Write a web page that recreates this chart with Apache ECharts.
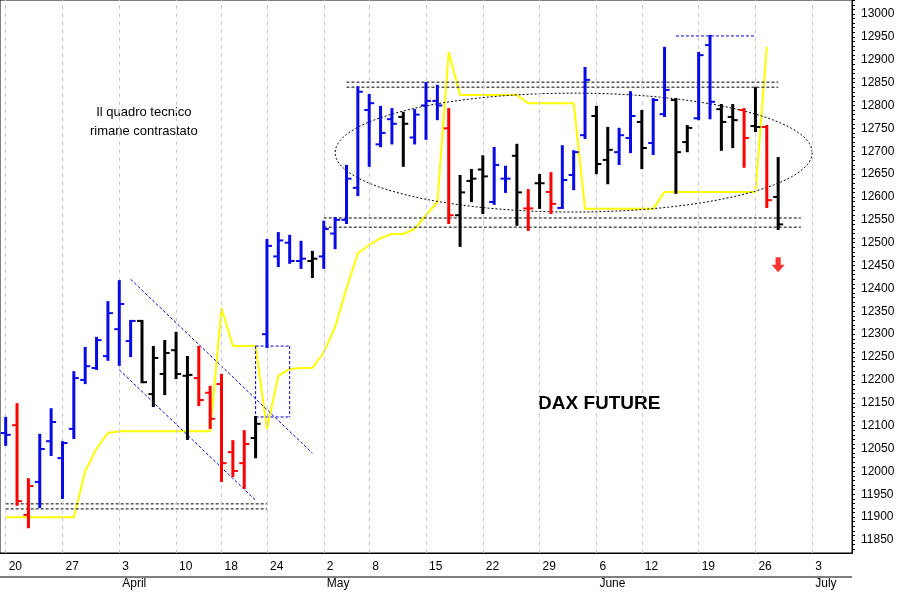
<!DOCTYPE html>
<html>
<head>
<meta charset="utf-8">
<script src="https://cdn.jsdelivr.net/npm/echarts@6/dist/echarts.min.js"></script>
<style>html,body{margin:0;padding:0;background:#fff}#main{width:904px;height:592px}</style>
</head>
<body>
<div id="main"></div>
<script>
// giorni di contrattazione (piu' alcuni giorni vuoti a destra)
var days = ['03-20','03-21','03-22','03-23','03-24','03-27','03-28','03-29','03-30','03-31',
    '04-03','04-04','04-05','04-06','04-07','04-10','04-11','04-12','04-13','04-18',
    '04-19','04-20','04-21','04-24','04-25','04-26','04-27','04-28','05-02','05-03',
    '05-04','05-05','05-08','05-09','05-10','05-11','05-12','05-15','05-16','05-17',
    '05-18','05-19','05-22','05-23','05-24','05-25','05-26','05-29','05-30','05-31',
    '06-01','06-02','06-06','06-07','06-08','06-09','06-12','06-13','06-14','06-15',
    '06-16','06-19','06-20','06-21','06-22','06-23','06-26','06-27','06-28','06-29',
    '06-30','07-03','07-04','07-05','07-06'];
var tickLabels = {0: '20', 5: '27', 10: '3\nApril', 15: '10', 19: '18', 23: '24', 28: '2\nMay',
    32: '8', 37: '15', 42: '22', 47: '29', 52: '6\nJune', 56: '12', 61: '19', 66: '26', 71: '3\nJuly'};
var priceTicks = [11850,11900,11950,12000,12050,12100,12150,12200,12250,12300,12350,12400,12450,
    12500,12550,12600,12650,12700,12750,12800,12850,12900,12950,13000];
var opens  = [12084,12101,11905,11977,12066,12029,12093,12200,12226,12252,12311,12285,12329,12169,12213,12265,12209,12204,12172,12191,12042,12018,12073,12300,12470,12500,12460,12460,12470,12520,12550,12620,12790,12715,12770,12775,12730,12800,12810,12750,12560,12635,12660,12589,12640,12690,12575,12630,12611,12576,12648,12735,12777,12681,12698,12729,12764,12718,12781,12812,12720,12772,12932,12792,12775,12790,12755,12753,12600];
var highs  = [12117,12147,11983,12080,12136,12064,12217,12270,12292,12370,12416,12329,12329,12272,12285,12303,12250,12272,12185,12211,12066,12088,12119,12506,12521,12515,12502,12480,12546,12554,12668,12840,12823,12797,12792,12784,12790,12849,12843,12792,12646,12659,12689,12707,12666,12714,12615,12648,12652,12711,12700,12882,12797,12751,12749,12829,12788,12814,12926,12814,12755,12915,12952,12801,12801,12792,12838,12755,12685];
var lows   = [12058,11927,11878,11922,12036,11942,12073,12193,12224,12244,12233,12252,12195,12143,12169,12204,12071,12145,12095,11979,11990,11964,12031,12272,12449,12456,12445,12425,12445,12488,12543,12604,12668,12711,12717,12668,12717,12727,12770,12543,12493,12591,12565,12585,12611,12539,12528,12576,12565,12576,12617,12729,12652,12630,12672,12698,12663,12694,12777,12609,12700,12770,12772,12703,12709,12666,12744,12578,12530];
var closes = [12080,11935,11968,12049,12108,12062,12204,12230,12287,12346,12366,12329,12195,12248,12259,12213,12211,12156,12115,12018,12001,12060,12104,12493,12505,12460,12465,12465,12530,12550,12640,12830,12805,12740,12760,12760,12780,12810,12800,12560,12610,12640,12645,12670,12640,12610,12575,12630,12585,12637,12698,12856,12672,12703,12735,12777,12707,12812,12834,12698,12751,12910,12808,12764,12768,12729,12753,12593,12540];
var barColors = 'brrbbbbbbbbbkkkkkrrrrrkbbbbkbbbbbbbkbbbrkkkbbkrkrbbbkkbbkbbkkbbkkrkrk';
var trend = [11900,11900,11900,11900,11900,11900,11900,12000,12050,12084,12088,12088,12088,12088,12088,12088,12088,12088,12088,12357,12274,12274,12274,12093,12209,12224,12226,12226,12260,12316,12400,12477,12495,12510,12519,12519,12530,12560,12589,12917,12823,12823,12823,12823,12823,12823,12805,12805,12805,12805,12805,12574,12574,12574,12574,12574,12574,12574,12611,12611,12611,12611,12611,12611,12611,12611,12611,12928];
// linee tratteggiate: x1, y1, x2, y2, colore
var segX1 = [-0.5,-0.5,30.1,30.1,28.2,28.2,11.1,9.95,22.1,22.1,22.1,25.1,59.2];
var segY1 = [11929,11918,12851,12840,12554,12534,12420,12222,12274,12119,12274,12274,12952];
var segX2 = [23.1,23.1,68.2,68.2,70.2,70.2,27.1,22.0,25.1,25.1,22.1,25.1,66.2];
var segY2 = [11929,11918,12851,12840,12554,12534,12040,11937,12274,12119,12119,12119,12952];
var segCol = ['#000','#000','#000','#000','#000','#000','#0000cc','#0000cc','#0000cc','#0000cc','#0000cc','#0000cc','#0000cc'];
var ellipse = [49.9, 12697, 21.2, 130];
var arrowPos = [68, 12452];

var colMap = {b: '#0a0ae6', k: '#000000', r: '#ff0000'};
var ohlc = opens.map(function (o, i) { return [i, o, highs[i], lows[i], closes[i]]; });
var segs = segX1.map(function (x, i) { return [x, segY1[i], segX2[i], segY2[i], i]; });
var mondays = Object.keys(tickLabels).map(Number);
var minorTicks = [];
for (var v = 11830; v <= 13030; v += 10) minorTicks.push(v);

var yMin = 11821.6, yMax = 13030.6;
var chart = echarts.init(document.getElementById('main'));
chart.setOption({
    animation: false,
    grid: {left: 0, right: 52, top: 0, bottom: 39, show: true, borderColor: '#000', borderWidth: 1},
    xAxis: {
        type: 'category', data: days,
        axisLine: {lineStyle: {color: '#000'}},
        axisTick: {alignWithLabel: true, length: 22, interval: function (i) { return mondays.indexOf(i) >= 0; }, lineStyle: {color: '#000'}},
        axisLabel: {interval: function (i) { return mondays.indexOf(i) >= 0; }, align: 'left', padding: [0, 0, 0, 3],
            formatter: function (v, i) { return tickLabels[i] || ''; },
            color: '#000', fontFamily: 'Liberation Sans', fontSize: 12, lineHeight: 17, margin: 5},
        splitLine: {show: false}
    },
    yAxis: [{
        type: 'value', position: 'right', min: yMin, max: yMax,
        axisLine: {show: true, lineStyle: {color: '#000'}},
        axisTick: {length: 6, customValues: priceTicks, lineStyle: {color: '#000'}},
        axisLabel: {color: '#000', fontFamily: 'Liberation Sans', fontSize: 12, margin: 9, customValues: priceTicks,
            formatter: function (v) { return String(Math.round(v)); }},
        splitLine: {show: false}
    }, {
        type: 'value', position: 'right', min: yMin, max: yMax,
        axisLine: {show: true, lineStyle: {color: '#000'}},
        axisTick: {show: true, length: 3, customValues: minorTicks, lineStyle: {color: '#000'}},
        axisLabel: {show: false, customValues: minorTicks},
        splitLine: {show: false}
    }],
    series: [
        {
            type: 'line', data: trend, symbol: 'none', z: 1,
            lineStyle: {color: '#ffff00', width: 2},
            markLine: {
                silent: true, symbol: 'none', label: {show: false},
                lineStyle: {color: '#c8c8e8', type: [4, 4], width: 1},
                data: mondays.map(function (m) { return {xAxis: m}; })
            }
        },
        {
            type: 'custom', data: segs, z: 3,
            renderItem: function (params, api) {
                var p1 = api.coord([api.value(0), api.value(1)]);
                var p2 = api.coord([api.value(2), api.value(3)]);
                return {type: 'line', shape: {x1: p1[0], y1: p1[1], x2: p2[0], y2: p2[1]},
                    style: {stroke: segCol[api.value(4)], lineWidth: 1, lineDash: [3, 2]}};
            }
        },
        {
            type: 'custom', data: [ellipse], z: 3,
            renderItem: function (params, api) {
                var c = api.coord([api.value(0), api.value(1)]);
                var ex = api.coord([api.value(0) + api.value(2), api.value(1)]);
                var ey = api.coord([api.value(0), api.value(1) + api.value(3)]);
                var rx = ex[0] - c[0], ry = c[1] - ey[1], pts = [];
                for (var a = 0; a <= 360; a += 3) {
                    var t = a * Math.PI / 180;
                    pts.push([c[0] + rx * Math.cos(t), c[1] + ry * Math.sin(t)]);
                }
                return {type: 'polyline', shape: {points: pts}, style: {stroke: '#000', fill: null, lineWidth: 1, lineDash: [2, 2]}};
            }
        },
        {
            type: 'custom', data: ohlc, z: 5,
            renderItem: function (params, api) {
                var i = api.value(0);
                var o = api.coord([i, api.value(1)]), h = api.coord([i, api.value(2)]);
                var l = api.coord([i, api.value(3)]), c = api.coord([i, api.value(4)]);
                var st = {stroke: colMap[barColors[i]], lineWidth: 3};
                return {type: 'group', children: [
                    {type: 'line', shape: {x1: h[0], y1: h[1] - 1, x2: l[0], y2: l[1] + 1}, style: st},
                    {type: 'line', shape: {x1: o[0] - 5, y1: o[1], x2: o[0], y2: o[1]}, style: {stroke: st.stroke, lineWidth: 2}},
                    {type: 'line', shape: {x1: c[0], y1: c[1], x2: c[0] + 5, y2: c[1]}, style: {stroke: st.stroke, lineWidth: 2}}
                ]};
            }
        },
        {
            type: 'scatter', data: [arrowPos], z: 6,
            symbol: 'path://M3,0 L7,0 L7,6 L10,6 L5,12 L0,6 L3,6 Z', symbolSize: [13, 15],
            itemStyle: {color: '#ff0000'}
        }
    ],
    graphic: [
        {type: 'text', left: 90, top: 103, style: {text: 'Il quadro tecnico\nrimane contrastato', fill: '#000',
            font: '13px "Liberation Sans"', textAlign: 'center', lineHeight: 19, x: 65}},
        {type: 'text', left: 538, top: 394, style: {text: 'DAX FUTURE', fill: '#000', font: 'bold 19px "Liberation Sans"'}},
        {type: 'line', shape: {x1: 0, y1: 577, x2: 852, y2: 577}, style: {stroke: '#000', lineWidth: 1}}
    ]
});
</script>
</body>
</html>
